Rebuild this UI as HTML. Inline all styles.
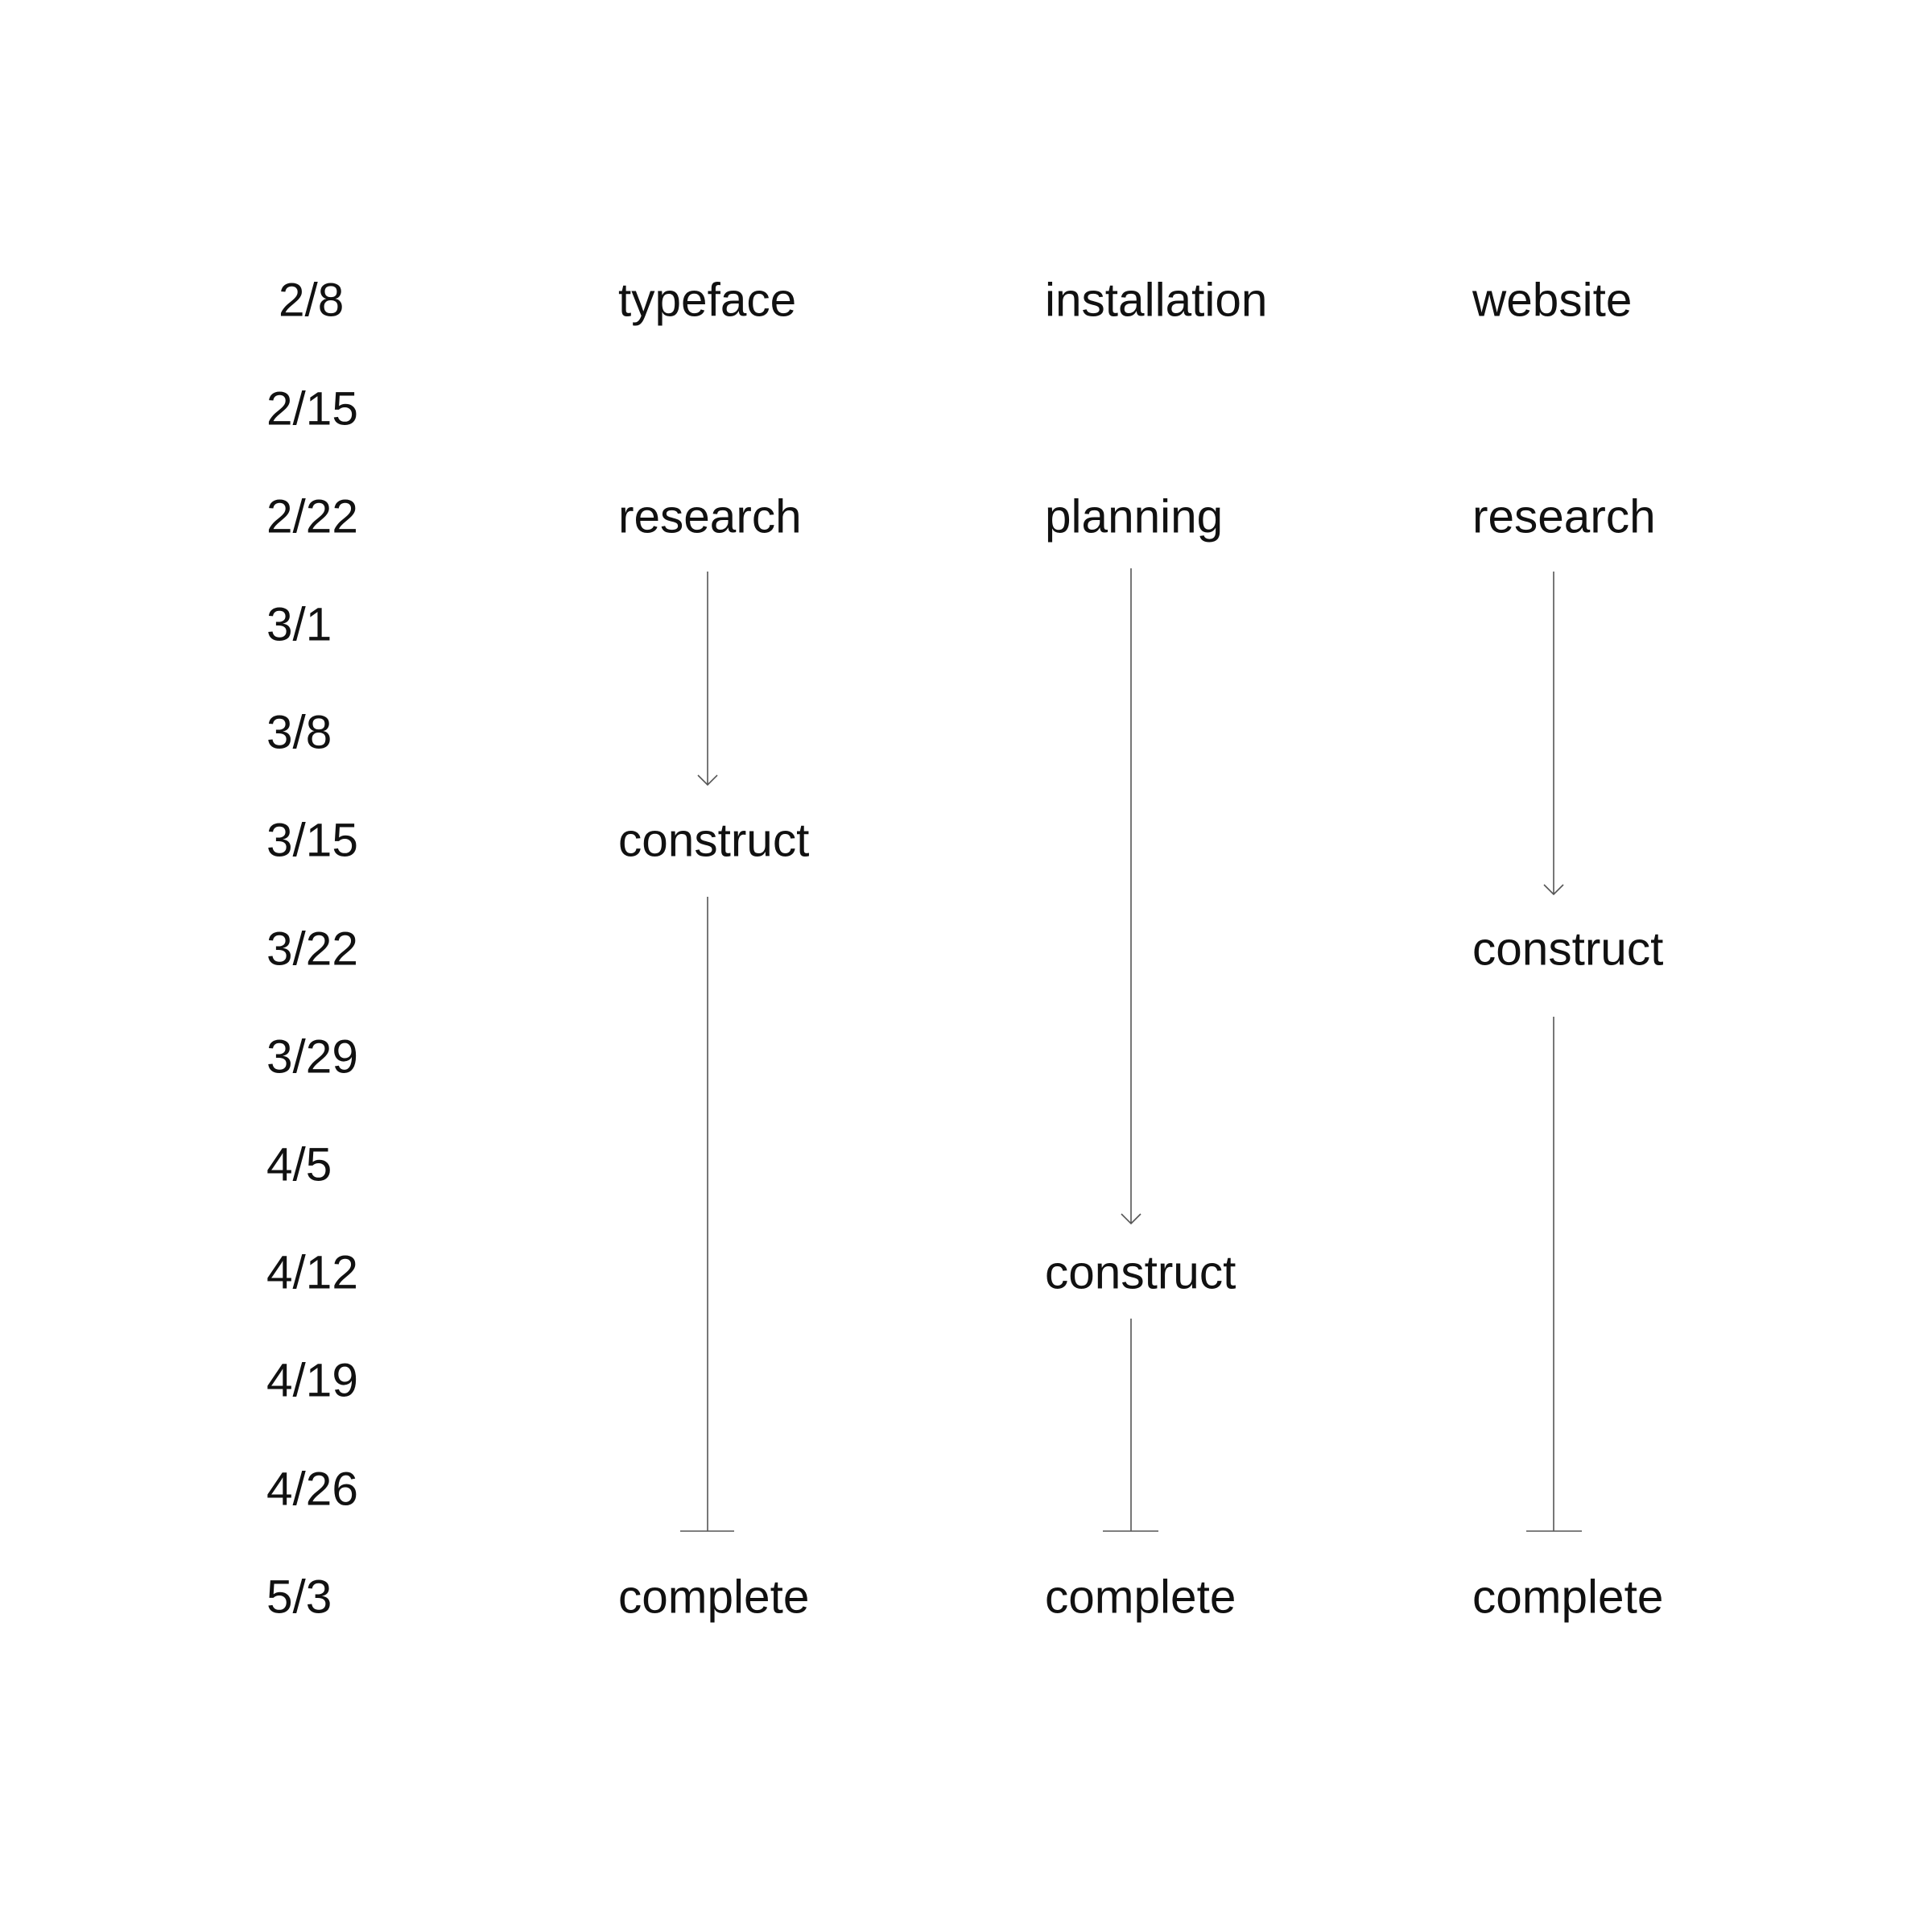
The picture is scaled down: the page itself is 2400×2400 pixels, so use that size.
<!DOCTYPE html>
<html><head><meta charset="utf-8"><style>
html,body{margin:0;padding:0;background:#fff;}
svg{display:block}
text{font-family:"Liberation Sans",sans-serif;font-size:58.5px;fill:#111;dominant-baseline:central;}
line,polyline{stroke:#555;stroke-width:1.6;fill:none;}
</style></head><body>
<svg width="2400" height="2400" viewBox="0 0 2400 2400" xmlns="http://www.w3.org/2000/svg">
<g>
<text x="346" y="373">2/8</text>
<text x="331" y="508">2/15</text>
<text x="331" y="642">2/22</text>
<text x="331" y="776">3/1</text>
<text x="331" y="910">3/8</text>
<text x="331" y="1044">3/15</text>
<text x="331" y="1179">3/22</text>
<text x="331" y="1313">3/29</text>
<text x="331" y="1447">4/5</text>
<text x="331" y="1581">4/12</text>
<text x="331" y="1715">4/19</text>
<text x="331" y="1850">4/26</text>
<text x="331" y="1984">5/3</text>

<text x="768" y="373">typeface</text>
<text x="1298" y="373">installation</text>
<text x="1829" y="373">website</text>

<text x="768" y="642">research</text>
<text x="1298" y="642">planning</text>
<text x="1829" y="642">research</text>

<text x="768" y="1044">construct</text>
<text x="1829" y="1179">construct</text>
<text x="1298" y="1581">construct</text>

<text x="768" y="1984">complete</text>
<text x="1298" y="1984">complete</text>
<text x="1829" y="1984">complete</text>
</g>
<!-- col1 -->
<line x1="879" y1="710" x2="879" y2="975"/>
<polyline points="867,963 879,975 891,963"/>
<line x1="879" y1="1114" x2="879" y2="1902"/>
<line x1="845" y1="1902" x2="912" y2="1902"/>
<!-- col2 -->
<line x1="1405" y1="706" x2="1405" y2="1520"/>
<polyline points="1393,1508 1405,1520 1417,1508"/>
<line x1="1405" y1="1638" x2="1405" y2="1902"/>
<line x1="1370" y1="1902" x2="1439" y2="1902"/>
<!-- col3 -->
<line x1="1930" y1="710" x2="1930" y2="1111"/>
<polyline points="1918,1099 1930,1111 1942,1099"/>
<line x1="1930" y1="1263" x2="1930" y2="1902"/>
<line x1="1896" y1="1902" x2="1965" y2="1902"/>
</svg>
</body></html>
